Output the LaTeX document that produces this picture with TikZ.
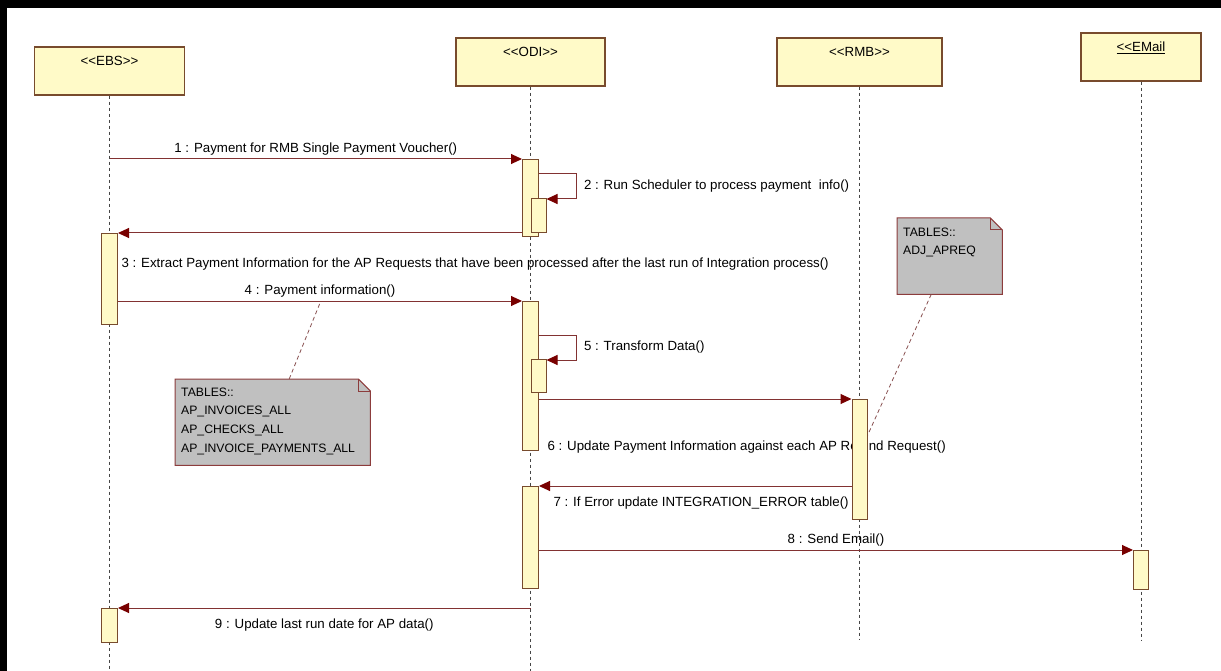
\documentclass[tikz,border=0pt]{standalone}
\usepackage{fontspec}
\setmainfont{Liberation Sans}
\usetikzlibrary{arrows.meta,calc}
\definecolor{boxfill}{RGB}{255,250,200}
\definecolor{boxline}{RGB}{120,75,45}
\definecolor{msgline}{RGB}{130,50,50}
\definecolor{arrowred}{RGB}{120,0,0}
\definecolor{notefill}{RGB}{192,192,192}
\definecolor{noteline}{RGB}{140,60,60}
\definecolor{lifegray}{RGB}{70,70,70}
\pgfdeclarelayer{bg}
\pgfdeclarelayer{front}
\pgfsetlayers{bg,main,front}
\tikzset{
  every node/.style={font=\fontsize{13.3}{15}\selectfont},
  lifebox/.style={draw=boxline, fill=boxfill, line width=1.2pt, inner xsep=0pt, inner ysep=0pt,
                  text height=19pt, text depth=29pt, minimum height=48pt},
  act/.style={draw=boxline, fill=boxfill, line width=1pt, inner sep=0pt, anchor=north},
  lifeline/.style={draw=lifegray, line width=1pt, dash pattern=on 3pt off 3pt},
  msg/.style={draw=msgline, line width=1pt, -{Triangle[length=11pt,width=10pt,fill=arrowred,color=arrowred]}},
  mlabel/.style={inner sep=3pt, text=black},
  notebox/.style={inner sep=0pt, anchor=north west},
  notetext/.style={anchor=north west, inner sep=0pt, align=left, font=\fontsize{12.2}{18.7}\selectfont},
  noteshape/.style={fill=notefill, draw=noteline, line width=1pt},
  notelink/.style={draw=noteline!70!gray, line width=0.8pt, dash pattern=on 4pt off 3pt},
}
\begin{document}
\begin{tikzpicture}[x=1pt,y=-1pt]
\useasboundingbox (0,0) rectangle (1221,671);
\begin{pgfonlayer}{bg}
  \fill[white] (0,0) rectangle (1221,671);
\end{pgfonlayer}
\fill[black] (0,0) rectangle (1221,8);
\fill[black] (0,0) rectangle (7,671);

% lifeline heads
\node[lifebox, minimum width=150pt] (ebs) at (109.5,71) {<\kern0pt<EBS>\kern0pt>};
\node[lifebox, minimum width=149pt] (odi) at (530.5,62) {<\kern0pt<ODI>\kern0pt>};
\node[lifebox, minimum width=165pt] (rmb) at (859.5,62) {<\kern0pt<RMB>\kern0pt>};
\node[lifebox, minimum width=120pt] (email) at (1141,57) {\underline{<\kern0pt<EMail}};

\coordinate (ebsend) at (109.5,671);
\coordinate (odiend) at (530.5,671);
\coordinate (rmbend) at (859.5,640);
\coordinate (emailend) at (1141,640);
\draw[lifeline] (ebs.south) -- (ebsend);
\draw[lifeline] (odi.south) -- (odiend);
\draw[lifeline] (rmb.south) -- (rmbend);
\draw[lifeline] (email.south) -- (emailend);

% activation bars
\begin{pgfonlayer}{front}
\node[act, minimum width=16pt, minimum height=77pt] (odia1) at (530.5,159) {};
\node[act, minimum width=15pt, minimum height=34pt] (odia1n) at (538.5,198) {};
\node[act, minimum width=16pt, minimum height=91pt] (ebsa1) at (109.5,233) {};
\node[act, minimum width=16pt, minimum height=149pt] (odia2) at (530.5,301) {};
\node[act, minimum width=15pt, minimum height=33pt] (odia2n) at (538.5,359) {};
\node[act, minimum width=15pt, minimum height=120pt] (rmba1) at (859.5,399) {};
\node[act, minimum width=16pt, minimum height=102pt] (odia3) at (530.5,486) {};
\node[act, minimum width=15pt, minimum height=39pt] (emaila1) at (1141,550) {};
\node[act, minimum width=16pt, minimum height=34pt] (ebsa2) at (109.5,608) {};
\end{pgfonlayer}

% messages
\draw[msg] (ebs.south |- odia1.north) -- node[above, mlabel]{1 : Payment for RMB Single Payment Voucher()} (odia1.north west);
\draw[msg] ([yshift=-15pt]odia1.north east) -| node[pos=0.75, right, mlabel, xshift=4pt]{2 : Run Scheduler to process payment~ info()} ([xshift=30pt,yshift=-1pt]odia1n.north east) -- ([yshift=-1pt]odia1n.north east);
\draw[msg] (odia1.west |- ebsa1.north) -- node[pos=1, anchor=north west, mlabel, yshift=-21pt]{3 : Extract Payment Information for the AP Requests that have been processed after the last run of Integration process()} (ebsa1.north east);
\draw[msg] (ebsa1.east |- odia2.north) -- node[above, mlabel]{4 : Payment information()} (odia2.north west);
\draw[msg] ([yshift=-34pt]odia2.north east) -| node[pos=0.75, right, mlabel, xshift=4pt]{5 : Transform Data()} ([xshift=30pt,yshift=-1pt]odia2n.north east) -- ([yshift=-1pt]odia2n.north east);
\draw[msg] (odia2.east |- rmba1.north) -- node[pos=0, anchor=north west, mlabel, xshift=5pt, yshift=-38pt]{6 : Update Payment Information against each AP Refund Request()} (rmba1.north west);
\draw[msg] (rmba1.west |- odia3.north) -- node[pos=1, anchor=north west, mlabel, xshift=11pt, yshift=-7pt]{7 : If Error update INTEGRATION\_ERROR table()} (odia3.north east);
\draw[msg] (odia3.east |- emaila1.north) -- node[above, mlabel]{8 : Send Email()} (emaila1.north west);
\draw[msg] (odi.south |- ebsa2.north) -- node[below, mlabel, yshift=-7pt]{9 : Update last run date for AP data()} (ebsa2.north east);

% notes
\node[notebox, minimum width=195pt, minimum height=86pt,
      label={[notetext, xshift=6pt, yshift=-8.5pt]north west:{TABLES::\\AP\_INVOICES\_ALL\\AP\_CHECKS\_ALL\\AP\_INVOICE\_PAYMENTS\_ALL}}] (n1) at (175,379) {};
\node[notebox, minimum width=105pt, minimum height=76pt,
      label={[notetext, xshift=6pt, yshift=-9.4pt]north west:{TABLES::\\ADJ\_APREQ}}] (n2) at (897,218) {};
\begin{pgfonlayer}{bg}
  \path[noteshape] (n1.north west) -- ([xshift=-12pt]n1.north east) -- ([yshift=-12pt]n1.north east) -- (n1.south east) -- (n1.south west) -- cycle;
  \draw[draw=noteline, line width=1pt] ([xshift=-12pt]n1.north east) -- ([xshift=-12pt,yshift=-12pt]n1.north east) -- ([yshift=-12pt]n1.north east);
  \path[noteshape] (n2.north west) -- ([xshift=-12pt]n2.north east) -- ([yshift=-12pt]n2.north east) -- (n2.south east) -- (n2.south west) -- cycle;
  \draw[draw=noteline, line width=1pt] ([xshift=-12pt]n2.north east) -- ([xshift=-12pt,yshift=-12pt]n2.north east) -- ([yshift=-12pt]n2.north east);
\end{pgfonlayer}
\coordinate (c1) at (320,303);
\draw[notelink] ([xshift=16.5pt]n1.north) -- (c1);
\draw[notelink] ([xshift=-18.5pt]n2.south) -- ([yshift=24pt]rmba1.east);
\end{tikzpicture}
\end{document}
